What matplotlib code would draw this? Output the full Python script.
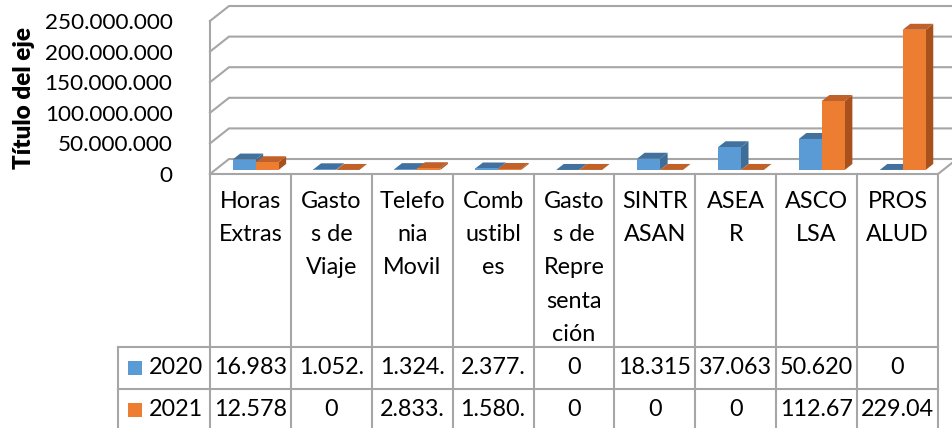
import matplotlib
matplotlib.use("Agg")
import matplotlib.pyplot as plt
from matplotlib.patches import Polygon, Rectangle
from matplotlib.ticker import FuncFormatter

# --- Data ---
categories = ["Horas\nExtras", "Gasto\ns de\nViaje", "Telefo\nnia\nMovil", "Comb\nustibl\nes",
              "Gasto\ns de\nRepre\nsenta\nción", "SINTR\nASAN", "ASEA\nR", "ASCO\nLSA", "PROS\nALUD"]
series_names = ["2020", "2021"]
values_2020 = [16983000, 1052000, 1324000, 2377000, 0, 18315000, 37063000, 50620000, 0]
values_2021 = [12578000, 0, 2833000, 1580000, 0, 0, 0, 112670000, 229040000]
cells_2020 = ["16.983", "1.052.", "1.324.", "2.377.", "0", "18.315", "37.063", "50.620", "0"]
cells_2021 = ["12.578", "0", "2.833.", "1.580.", "0", "0", "0", "112.67", "229.04"]
y_ticks = [0, 50e6, 100e6, 150e6, 200e6, 250e6]

# --- Style ---
W, H = 952, 428
FONT = "Lato"
FS = 16.8
GRID = "#A6A6A6"
FRONT = ["#5B9BD5", "#ED7D31"]
TOP = ["#41719C", "#C0612A"]
SIDE = ["#3E6D97", "#A9511C"]

DX, DY = 0.235, 24.5e6        # full wall depth in data units
F1, F2 = 0.27, 0.67           # bar front/back depth fractions
BAR_W = 0.284

plt.rcParams["font.family"] = [FONT, "DejaVu Sans"]

fig = plt.figure(figsize=(W / 100, H / 100), dpi=100)
ax = fig.add_axes([210 / W, (H - 174) / H, 728 / W, 153 / H])
ax.set_xlim(-0.5, 8.5)
ax.set_ylim(0, 250e6)
for s in ax.spines.values():
    s.set_visible(False)
ax.set_xticks([])
ax.set_yticks(y_ticks)
ax.yaxis.set_major_formatter(FuncFormatter(lambda v, p: f"{int(v):,}".replace(",", ".")))
ax.tick_params(axis="y", length=0, pad=27, labelsize=16.2)

x0, x1 = -0.5, 8.5
# walls / gridlines
for v in y_ticks:
    ax.plot([x0, x0 + DX, x1 + DX], [v, v + DY, v + DY], color=GRID, lw=1.5,
            clip_on=False, solid_joinstyle="miter")
ax.plot([x0, x0], [0, 250e6], color=GRID, lw=1.5, clip_on=False)
ax.plot([x0, x1, x1 + DX], [0, 0, DY], color=GRID, lw=1.5, clip_on=False)

# 3D bars
for i in range(len(categories)):
    for k, vals in enumerate([values_2020, values_2021]):
        v = vals[i]
        left = i - BAR_W + k * BAR_W
        ax_, ay_ = F1 * DX, F1 * DY
        bx_, by_ = F2 * DX, F2 * DY
        fl, fr = left + ax_, left + BAR_W + ax_
        side = [(fr, ay_), (fr + bx_ - ax_, by_), (fr + bx_ - ax_, v + by_), (fr, v + ay_)]
        top = [(fl, v + ay_), (fr, v + ay_), (fr + bx_ - ax_, v + by_), (fl + bx_ - ax_, v + by_)]
        front = [(fl, ay_), (fr, ay_), (fr, v + ay_), (fl, v + ay_)]
        if v > 0:
            ax.add_patch(Polygon(side, closed=True, fc=SIDE[k], ec="none", clip_on=False, zorder=3))
        ax.add_patch(Polygon(top, closed=True, fc=TOP[k], ec="none", clip_on=False, zorder=3))
        if v > 0:
            ax.add_patch(Polygon(front, closed=True, fc=FRONT[k], ec="none", clip_on=False, zorder=3))

fig.text(24 / W, 1 - 98 / H, "Título del eje", rotation=90, ha="center", va="center",
         fontsize=17.5, fontweight="heavy")

# --- Data table ---
tax = fig.add_axes([210 / W, 0, 728 / W, (H - 174) / H])
tax.set_xlim(-0.5, 8.5)
tax.set_ylim(254, 0)
tax.axis("off")
leg_left = -0.5 - 92 / 80.9
row_edges = [0, 173, 215, 257]
for e in range(len(categories) + 1):
    tax.plot([e - 0.5, e - 0.5], [0, 260], color=GRID, lw=1.5, clip_on=False)
tax.plot([leg_left, leg_left], [173, 260], color=GRID, lw=1.5, clip_on=False)
for r in row_edges[1:3]:
    tax.plot([leg_left, 8.5], [r, r], color=GRID, lw=1.5, clip_on=False)

for i, lab in enumerate(categories):
    tax.text(i, 17, lab, ha="center", va="top", fontsize=FS, linespacing=1.72)

for r, (name, cells) in enumerate(zip(series_names, [cells_2020, cells_2021])):
    yc = (row_edges[r + 1] + row_edges[r + 2]) / 2
    tax.add_patch(Rectangle((-0.5 - 82 / 80.9, yc - 7), 14 / 80.9, 14, fc=FRONT[r], ec="none",
                            clip_on=False))
    tax.text(-0.5 - 61 / 80.9, yc, name, ha="left", va="center", fontsize=FS)
    for i, c in enumerate(cells):
        tax.text(i, yc, c, ha="center", va="center", fontsize=FS)

fig.savefig("out.png", dpi=100)
